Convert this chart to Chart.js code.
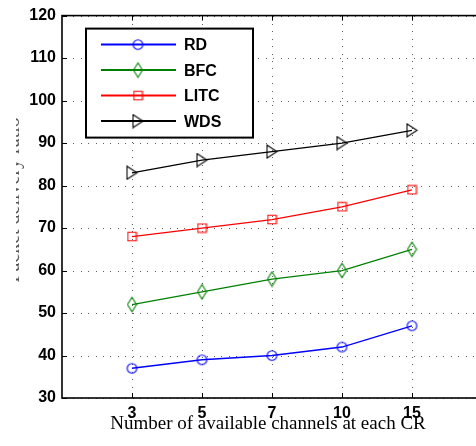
<!DOCTYPE html>
<html>
<head>
<meta charset="utf-8">
<script src="https://cdn.jsdelivr.net/npm/chart.js@4/dist/chart.umd.min.js"></script>
<style>
  html, body { margin: 0; padding: 0; overflow: hidden; background: #fff; width: 476px; height: 446px; }
  canvas { display: block; }
</style>
</head>
<body>
<canvas id="chart" width="490" height="446"></canvas>
<script>
// Channel counts on the x axis and delivery figures per scheme
const channelCounts = ['3', '5', '7', '10', '15'];
const rdValues   = [37, 39, 40, 42, 47];
const bfcValues  = [52, 55, 58, 60, 65];
const litcValues = [68, 70, 72, 75, 79];
const wdsValues  = [83, 86, 88, 90, 93];
const yTickValues = [30, 40, 50, 60, 70, 80, 90, 100, 110, 120];
const seriesNames = ['RD', 'BFC', 'LITC', 'WDS'];
const xTitle = 'Number of available channels at each CR';
const yTitle = 'Packet delivery ratio';

// Hollow marker glyphs drawn once into small canvases
function makeMarker(w, h, color, path) {
  const c = document.createElement('canvas');
  c.width = w; c.height = h;
  const g = c.getContext('2d');
  g.strokeStyle = color;
  g.lineWidth = 1.1;
  g.beginPath();
  path(g, w, h);
  g.closePath();
  g.stroke();
  return c;
}
const circleMark = makeMarker(13, 13, '#0000ff', (g, w, h) => g.arc(w / 2, h / 2, 4.8, 0, Math.PI * 2));
const diamondMark = makeMarker(11, 17, '#008000', (g, w, h) => {
  g.moveTo(w / 2, h / 2 - 7.3); g.lineTo(w / 2 + 4.5, h / 2);
  g.lineTo(w / 2, h / 2 + 7.3); g.lineTo(w / 2 - 4.5, h / 2);
});
const squareMark = makeMarker(11, 11, '#ff0000', (g, w, h) => g.rect(1.2, 1.2, 8.6, 8.6));
const triangleMark = makeMarker(13, 15, '#000000', (g, w, h) => {
  g.moveTo(1.5, 1); g.lineTo(11.5, 7.5); g.lineTo(1.5, 14);
});

function toPoints(values) {
  return values.map((v, i) => ({ x: i + 1, y: v }));
}

const colors = ['#0000ff', '#008000', '#ff0000', '#000000'];
const marks = [circleMark, diamondMark, squareMark, triangleMark];
const seriesValues = [rdValues, bfcValues, litcValues, wdsValues];

const datasets = seriesNames.map((name, i) => ({
  label: name,
  data: toPoints(seriesValues[i]),
  borderColor: colors[i],
  borderWidth: 1.3,
  pointStyle: marks[i],
  pointRadius: 6,
  pointHoverRadius: 6,
  fill: false,
  tension: 0
}));

// Dotted grid behind the lines, one pixel per dot
const dottedGrid = {
  id: 'dottedGrid',
  beforeDatasetsDraw(chart) {
    const { ctx, chartArea: a, scales } = chart;
    const step = 7.4;
    ctx.save();
    ctx.fillStyle = '#5e5e5e';
    scales.x.ticks.forEach(t => {
      const px = Math.round(scales.x.getPixelForValue(t.value));
      for (let y = a.bottom - 4; y > a.top; y -= step) {
        ctx.fillRect(px, Math.round(y), 1, 1);
      }
    });
    scales.y.ticks.forEach(t => {
      const py = Math.round(scales.y.getPixelForValue(t.value));
      for (let x = a.left + 4; x < a.right; x += step) {
        ctx.fillRect(Math.round(x), py, 1, 1);
      }
    });
    ctx.restore();
  }
};

// Axes frame, inward ticks, legend box and axis titles
const decorations = {
  id: 'decorations',
  afterDraw(chart) {
    const { ctx, chartArea: a, scales } = chart;
    ctx.save();

    // inward tick marks
    ctx.strokeStyle = '#000';
    ctx.lineWidth = 1;
    ctx.beginPath();
    scales.x.ticks.forEach(t => {
      const px = Math.round(scales.x.getPixelForValue(t.value)) + 0.5;
      ctx.moveTo(px, a.bottom); ctx.lineTo(px, a.bottom - 5);
      ctx.moveTo(px, a.top); ctx.lineTo(px, a.top + 5);
    });
    scales.y.ticks.forEach(t => {
      const py = Math.round(scales.y.getPixelForValue(t.value)) + 0.5;
      ctx.moveTo(a.left, py); ctx.lineTo(a.left + 5, py);
    });
    ctx.stroke();

    // frame
    ctx.lineWidth = 1.6;
    ctx.strokeRect(a.left, a.top, a.right - a.left, a.bottom - a.top);

    // legend
    const lx = a.left + 24, ly = a.top + 13, lw = 167, lh = 109;
    ctx.fillStyle = '#fff';
    ctx.fillRect(lx, ly, lw, lh);
    ctx.lineWidth = 2;
    ctx.strokeStyle = '#000';
    ctx.strokeRect(lx, ly, lw, lh);
    ctx.font = 'bold 16px "Liberation Sans", Arial, sans-serif';
    ctx.textBaseline = 'middle';
    ctx.textAlign = 'left';
    chart.data.datasets.forEach((ds, i) => {
      const ry = ly + 16 + i * 25.5;
      ctx.strokeStyle = ds.borderColor;
      ctx.lineWidth = 2;
      ctx.beginPath();
      ctx.moveTo(lx + 15, ry); ctx.lineTo(lx + 90, ry);
      ctx.stroke();
      const m = ds.pointStyle;
      ctx.drawImage(m, lx + 52 - m.width / 2, ry - m.height / 2);
      ctx.fillStyle = '#000';
      ctx.fillText(ds.label, lx + 98, ry + 1);
    });

    // x axis title
    ctx.fillStyle = '#000';
    ctx.font = '19px "Liberation Serif", "Times New Roman", serif';
    ctx.textAlign = 'center';
    ctx.textBaseline = 'alphabetic';
    ctx.fillText(xTitle, 268, 429);

    // y axis title, mostly outside the left edge
    ctx.save();
    ctx.beginPath();
    ctx.rect(16, 0, 30, chart.height);
    ctx.clip();
    ctx.translate(18.5, 200);
    ctx.rotate(-Math.PI / 2);
    ctx.font = '20px "Liberation Serif", "Times New Roman", serif';
    ctx.textAlign = 'center';
    ctx.textBaseline = 'alphabetic';
    ctx.fillStyle = '#555';
    ctx.fillText(yTitle, 0, 0);
    ctx.restore();

    ctx.restore();
  }
};

const tickFont = { family: '"Liberation Sans", Arial, sans-serif', size: 16, weight: 'bold' };

new Chart(document.getElementById('chart'), {
  type: 'line',
  data: { datasets },
  options: {
    responsive: false,
    animation: false,
    devicePixelRatio: 1,
    layout: { padding: { top: 10, left: 0, right: 8, bottom: 0 } },
    plugins: { legend: { display: false }, tooltip: { enabled: false } },
    scales: {
      x: {
        type: 'linear',
        min: 0,
        max: 6,
        grid: { display: false, drawTicks: false },
        border: { display: false },
        afterBuildTicks: s => { s.ticks = channelCounts.map((_, i) => ({ value: i + 1 })); },
        afterFit: s => { s.height = 48; },
        ticks: {
          font: tickFont,
          color: '#000',
          padding: 6,
          maxRotation: 0,
          autoSkip: false,
          callback: v => channelCounts[v - 1] ?? ''
        }
      },
      y: {
        type: 'linear',
        min: yTickValues[0],
        max: yTickValues[yTickValues.length - 1],
        grid: { display: false, drawTicks: false },
        border: { display: false },
        afterBuildTicks: s => { s.ticks = yTickValues.map(v => ({ value: v })); },
        afterFit: s => { s.width = 62; },
        ticks: { font: tickFont, color: '#000', padding: 6 }
      }
    }
  },
  plugins: [dottedGrid, decorations]
});
</script>
</body>
</html>
